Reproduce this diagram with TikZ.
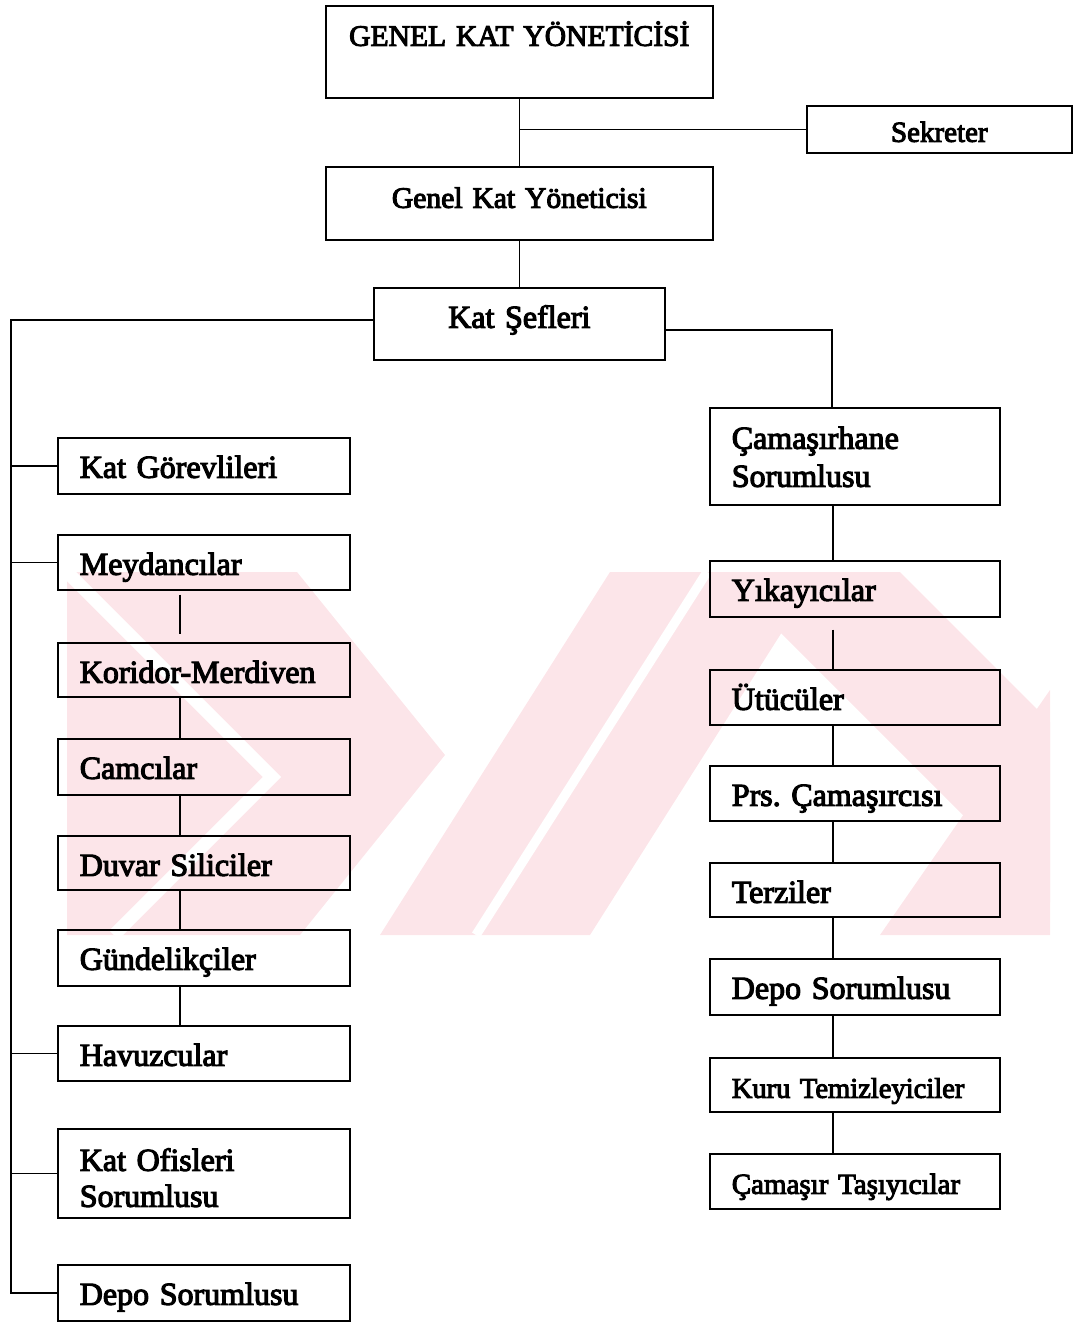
\documentclass[tikz,border=0pt]{standalone}
\usepackage{fontspec}
\setmainfont{Liberation Serif}[FakeBold=3.5]
\definecolor{wm}{RGB}{252,229,233}
\begin{document}
\frenchspacing
\begin{tikzpicture}[x=0.75pt,y=-0.75pt,
  box/.style={draw, line width=1.2pt, inner xsep=16.5pt, inner ysep=0pt,
    align=left, anchor=north west, text height=30pt,
    font=\fontsize{24pt}{27pt}\selectfont},
  lbox/.style={box, text width=186pt},
  rbox/.style={box, text width=184.5pt},
  tbox/.style={box, align=center},
  link/.style={line width=1.2pt}]
\useasboundingbox (0,0) rectangle (1072,1322);

% faint background emblem
\begin{scope}
  \clip (67,572) rectangle (1050,935);
  \fill[wm] (67,572) -- (297,572) -- (445,755) -- (300,935) -- (67,935) -- cycle;
  \draw[white, line width=9.75pt] (60,565) -- (272,777) -- (114,935);
  \fill[wm] (380,935) -- (590,935) -- (820,572) -- (610,572) -- cycle;
  \draw[white, line width=7pt] (476,935) -- (707,572);
  \fill[wm] (720,572) -- (900,572) -- (1263,935) -- (1083,935) -- cycle;
  \fill[wm] (880,935) -- (1050,935) -- (1050,690) -- cycle;
\end{scope}

% top of the chart
\node[tbox, text width=257.25pt, text depth=39pt,
  font=\fontsize{22.2pt}{26pt}\selectfont] (gky) at (325,5) {GENEL KAT YÖNETİCİSİ};
\node[tbox, text width=165.75pt, text height=27pt, text depth=8.25pt,
  font=\fontsize{21.75pt}{26pt}\selectfont] (sek) at (806,105) {Sekreter};
\node[tbox, text width=257.25pt, text height=30.75pt, text depth=24pt,
  font=\fontsize{22.2pt}{26pt}\selectfont] (gk) at (325,166) {Genel Kat Yöneticisi};
\node[tbox, text width=185.25pt, text depth=24pt] (ks) at (373,287) {Kat Şefleri};

% left column
\node[lbox, text depth=12pt]    (gor) at (57,437)  {Kat Görevlileri};
\node[lbox, text depth=11.25pt] (mey) at (57,534)  {Meydancılar};
\node[lbox, text depth=10.5pt]  (kor) at (57,642)  {Koridor-Merdiven};
\node[lbox, text depth=12pt]    (cam) at (57,738)  {Camcılar};
\node[lbox, text depth=10.5pt]  (duv) at (57,835)  {Duvar Siliciler};
\node[lbox, text depth=12pt]    (gun) at (57,929)  {Gündelikçiler};
\node[lbox, text depth=11.25pt] (hav) at (57,1025) {Havuzcular};
\node[lbox, text height=31.5pt, text depth=35.25pt] (ofi) at (57,1128) {Kat Ofisleri\\Sorumlusu};
\node[lbox, text depth=12pt]    (dep) at (57,1264) {Depo Sorumlusu};

% right column
\node[rbox, text height=30.75pt, text depth=42pt,
  font=\fontsize{24pt}{28.5pt}\selectfont] (cs) at (709,407) {Çamaşırhane\\Sorumlusu};
\node[rbox, text depth=12pt]    (yik) at (709,560)  {Yıkayıcılar};
\node[rbox, text depth=11.25pt] (utu) at (709,669)  {Ütücüler};
\node[rbox, text depth=11.25pt] (prs) at (709,765)  {Prs. Çamaşırcısı};
\node[rbox, text depth=10.5pt]  (ter) at (709,862)  {Terziler};
\node[rbox, text depth=12pt]    (dp2) at (709,958)  {Depo Sorumlusu};
\node[rbox, text depth=10.5pt,
  font=\fontsize{21.4pt}{26pt}\selectfont] (kur) at (709,1057) {Kuru Temizleyiciler};
\node[rbox, text depth=11.25pt,
  font=\fontsize{21.75pt}{26pt}\selectfont] (tas) at (709,1153) {Çamaşır Taşıyıcılar};

% connector guides
\coordinate (lt) at (11,320);
\coordinate (rt) at (832,330);
\coordinate (lc) at (180,0);
\coordinate (rc) at (833,0);

% upper links
\draw[link] (gky.south) -- (gk.north);
\draw[link] (sek.west) -- (sek.west -| gky.south);
\draw[link] (gk.south) -- (ks.north);

% left trunk and branches
\draw[link] (ks.west |- lt) -- (lt) |- (dep.west);
\foreach \n in {gor,mey,hav,ofi}
  \draw[link] (lt |- \n.west) -- (\n.west);
\draw[link, shorten <=3pt, shorten >=6pt] (lc |- mey.south) -- (lc |- kor.north);
\draw[link] (lc |- kor.south) -- (lc |- cam.north);
\draw[link] (lc |- cam.south) -- (lc |- duv.north);
\draw[link] (lc |- duv.south) -- (lc |- gun.north);
\draw[link] (lc |- gun.south) -- (lc |- hav.north);

% right trunk and chain
\draw[link] (ks.east |- rt) -- (rt) -- (rt |- cs.north);
\draw[link] (rc |- cs.south) -- (rc |- yik.north);
\draw[link, shorten <=9pt] (rc |- yik.south) -- (rc |- utu.north);
\draw[link] (rc |- utu.south) -- (rc |- prs.north);
\draw[link] (rc |- prs.south) -- (rc |- ter.north);
\draw[link] (rc |- ter.south) -- (rc |- dp2.north);
\draw[link] (rc |- dp2.south) -- (rc |- kur.north);
\draw[link] (rc |- kur.south) -- (rc |- tas.north);
\end{tikzpicture}
\end{document}
